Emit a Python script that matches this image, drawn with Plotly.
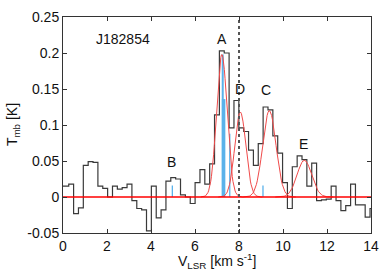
import numpy as np
import plotly.graph_objects as go

# channel centre velocities (km/s)
velocity = [-0.070, 0.151, 0.372, 0.592, 0.813, 1.034, 1.255, 1.476, 1.697, 1.918,
            2.139, 2.360, 2.580, 2.801, 3.022, 3.243, 3.464, 3.685, 3.906, 4.127,
            4.348, 4.569, 4.789, 5.010, 5.231, 5.452, 5.673, 5.894, 6.115, 6.336,
            6.557, 6.777, 6.998, 7.219, 7.440, 7.661, 7.882, 8.103, 8.324, 8.545,
            8.765, 8.986, 9.207, 9.428, 9.649, 9.870, 10.091, 10.312, 10.533, 10.754,
            10.974, 11.195, 11.416, 11.637, 11.858, 12.079, 12.300, 12.521, 12.742, 12.962,
            13.183, 13.404, 13.625, 13.846, 14.067]
# main-beam temperature (K)
tmb = [0.015, 0.015, 0.018, -0.023, -0.015, 0.044, 0.049, 0.048, 0.015, 0.012,
       0.000, 0.015, 0.011, 0.013, 0.018, -0.005, -0.016, -0.018, -0.047, 0.015,
       -0.029, -0.018, 0.022, 0.027, 0.025, 0.003, 0.000, -0.009, 0.020, 0.038,
       0.018, 0.046, 0.114, 0.203, 0.200, 0.096, 0.134, 0.096, 0.091, 0.065,
       0.044, 0.074, 0.125, 0.121, 0.085, 0.061, 0.020, -0.016, 0.042, 0.057,
       0.052, 0.015, 0.047, -0.005, -0.004, -0.003, 0.015, -0.005, -0.019, -0.012,
       0.018, -0.011, -0.011, -0.028, -0.016]

# Gaussian fit components
comp_names = ["A", "D", "C", "E"]
comp_center = [7.22, 8.06, 9.38, 10.97]
comp_amp = [0.198, 0.118, 0.120, 0.051]
comp_sigma = [0.24, 0.25, 0.30, 0.33]

# blue stick markers
stick_v = [4.97, 7.26, 7.30, 7.58, 9.09]
stick_h = [0.016, 0.198, 0.136, 0.088, 0.016]
stick_w = [1.3, 2.0, 3.5, 1.3, 1.3]

# labels
label_text = ["A", "B", "C", "D", "E"]
label_v = [7.22, 4.92, 9.24, 8.05, 10.93]
label_t = [0.219, 0.049, 0.149, 0.150, 0.073]

source = "J182854"
ref_v = 8.0

fig = go.Figure()

fig.add_trace(go.Scatter(x=velocity, y=tmb, mode="lines", line_shape="hvh",
                         line=dict(color="#3a3a3a", width=1.2), hoverinfo="skip"))

for v, h, w in zip(stick_v, stick_h, stick_w):
    fig.add_trace(go.Scatter(x=[v, v], y=[0, h], mode="lines",
                             line=dict(color="#5ab2ea", width=w), hoverinfo="skip"))

for c, a, s in zip(comp_center, comp_amp, comp_sigma):
    xs = np.linspace(c - 4 * s, c + 4 * s, 60)
    ys = a * np.exp(-(xs - c) ** 2 / (2 * s ** 2))
    fig.add_trace(go.Scatter(x=xs, y=ys, mode="lines",
                             line=dict(color="#f04a4a", width=1), hoverinfo="skip"))

fig.add_trace(go.Scatter(x=[0, 14], y=[0, 0], mode="lines",
                         line=dict(color="#ff0000", width=1.6), hoverinfo="skip"))

fig.add_trace(go.Scatter(x=[ref_v, ref_v], y=[-0.05, 0.25], mode="lines",
                         line=dict(color="#555555", width=2, dash="3px,3px"), hoverinfo="skip"))

font = dict(family="Liberation Sans, Arial, sans-serif", size=14, color="#111111")

for t, v, y in zip(label_text, label_v, label_t):
    fig.add_annotation(x=v, y=y, text=t, showarrow=False, font=font,
                       xanchor="center", yanchor="middle")
fig.add_annotation(x=2.73, y=0.219, text=source, showarrow=False, font=font,
                   xanchor="center", yanchor="middle")

fig.add_annotation(x=0.5, y=-0.128, xref="paper", yref="paper",
                   text="V<sub>LSR</sub> [km s<sup>-1</sup>]", showarrow=False,
                   font=font, xanchor="center", yanchor="middle")
fig.add_annotation(x=-0.162, y=0.5, xref="paper", yref="paper",
                   text="T<sub>mb</sub> [K]", showarrow=False, textangle=-90,
                   font=font, xanchor="center", yanchor="middle")

axis_common = dict(showline=True, linecolor="#333333", linewidth=1, mirror="ticks",
                   ticks="inside", ticklen=4, tickcolor="#333333", showgrid=False,
                   zeroline=False, tickfont=font)

fig.update_xaxes(range=[0, 14], tickvals=[0, 2, 4, 6, 8, 10, 12, 14], **axis_common)
fig.update_yaxes(range=[-0.05, 0.25],
                 tickvals=[-0.05, 0, 0.05, 0.1, 0.15, 0.2, 0.25],
                 ticktext=["-0.05", "0", "0.05", "0.1", "0.15", "0.2", "0.25"],
                 **axis_common)

fig.update_layout(width=388, height=271, showlegend=False,
                  margin=dict(l=63, r=14, t=9, b=38),
                  paper_bgcolor="white", plot_bgcolor="white")

fig.write_html("out.html", config={"displayModeBar": False},
               post_script="document.body.style.margin='0';document.body.style.padding='0';")
